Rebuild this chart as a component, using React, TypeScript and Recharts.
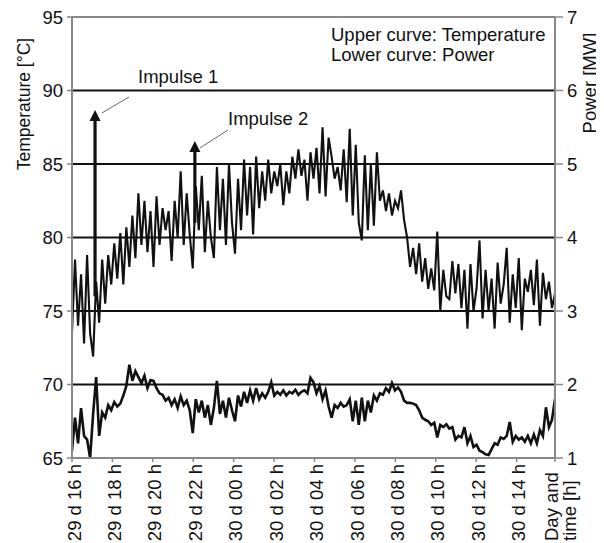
import React from "react";
import { ComposedChart, Line, XAxis, YAxis, ReferenceLine, Customized } from "recharts";

const START_H = 16;
const STEP_H = 0.149375;

const tempValues = [
  73.5, 78.5, 74, 77.5, 72.8, 78.8, 73.5, 71.9, 77, 74.2,
  78.5, 75.5, 78.8, 76.8, 79.6, 77.2, 80.3, 76.8, 80.7, 78,
  81.5, 78.6, 83, 79.5, 82.5, 79, 81.8, 78, 82.8, 79.5,
  82, 80.5, 81.8, 78.4, 82.5, 80, 84.5, 79.5, 83, 80.2,
  77.9, 83.5, 80.5, 84.2, 79, 82.5, 80, 78.6, 84.8, 80.5,
  84, 79.5, 85, 81, 78.9, 84, 80.5, 85.3, 81.5, 84.8,
  80.2, 85.5, 82, 84.5, 82.5, 85.3, 83, 84.5, 83.5, 85,
  82.2, 84.5, 83, 85.5, 84, 86, 84.2, 85.3, 82.5, 85.8,
  84, 86.1, 83, 87.5, 82.8, 86.8, 85.5, 84, 84.8, 83.2,
  86, 82.4, 87.4, 81.5, 86.3, 81, 79.8, 85.6, 80.5, 85,
  80.8, 85.8, 82.5, 83.2, 81.8, 83, 81.5, 82.5, 82, 83.2,
  81.2, 80, 78, 79.3, 77.5, 79.6, 77, 78.6, 76.5, 77.9,
  76.4, 80.4, 75, 77.8, 76, 75.8, 78.4, 76.2, 78.2, 75.2,
  77.8, 73.8, 78.2, 75, 76.5, 79.8, 74.5, 77.8, 75, 77.2,
  73.8, 78.3, 75.5, 76.8, 79.3, 74.2, 77.5, 75.2, 78.6, 73.7,
  77.2, 76.3, 77.8, 75.4, 78.5, 74, 77.6, 75.8, 77, 75.2,
  76.2,
];

const powerValues = [
  1.1, 1.55, 1.2, 1.68, 1.3, 1.25, 1.0, 1.6, 2.1, 1.3,
  1.62, 1.55, 1.72, 1.65, 1.76, 1.7, 1.74, 1.85, 1.98, 2.27,
  2.05, 2.18, 2.1, 2.02, 2.12, 1.95, 2.06, 2.05, 1.95, 1.88,
  1.86, 1.78, 1.82, 1.72, 1.8, 1.68, 1.84, 1.72, 1.78, 1.65,
  1.34, 1.8, 1.62, 1.78, 1.55, 1.72, 1.45, 1.68, 2.05, 1.6,
  1.78, 1.55, 1.82, 1.65, 1.5, 1.85, 1.7, 1.9, 1.75, 1.92,
  1.78, 1.95, 1.8, 1.88, 1.82, 1.9, 2.03, 1.85, 1.9, 1.86,
  1.92, 1.85, 1.9, 1.88, 1.93, 1.86, 1.9, 1.92, 1.88, 2.09,
  2.03, 1.88, 1.98, 1.8, 1.92, 1.7, 1.55, 1.72, 1.68, 1.75,
  1.7, 1.72, 1.8, 1.5, 1.78, 1.45, 1.82, 1.5, 1.78, 1.62,
  1.85, 1.78, 1.88, 1.86, 1.95, 1.9, 2.02, 1.92, 1.96, 1.9,
  1.78, 1.75, 1.75, 1.74, 1.72, 1.65, 1.55, 1.52, 1.5, 1.45,
  1.48, 1.28, 1.45, 1.42, 1.46, 1.4, 1.42, 1.25, 1.3, 1.28,
  1.42, 1.2, 1.3, 1.15, 1.18, 1.1, 1.08, 1.05, 1.04, 1.12,
  1.2, 1.18, 1.28, 1.26, 1.3, 1.49, 1.22, 1.3, 1.25, 1.28,
  1.22, 1.3, 1.2, 1.32, 1.2, 1.38, 1.3, 1.69, 1.42, 1.52,
  1.8,
];

const xTicks = [16, 18, 20, 22, 24, 26, 28, 30, 32, 34, 36, 38, 39.9];
const xTickLabels = [
  "29 d 16 h", "29 d 18 h", "29 d 20 h", "29 d 22 h", "30 d 00 h", "30 d 02 h",
  "30 d 04 h", "30 d 06 h", "30 d 08 h", "30 d 10 h", "30 d 12 h", "30 d 14 h",
  "Day and|time [h]",
];
const tempTicks = [65, 70, 75, 80, 85, 90, 95];
const powerTicks = [1, 2, 3, 4, 5, 6, 7];
const gridTemps = [70, 75, 80, 85, 90];

const impulse1 = [{ t: 17.14, v: 76 }, { t: 17.14, v: 88.2 }];
const impulse2 = [{ t: 22.08, v: 81 }, { t: 22.08, v: 86.1 }];
const arrowTips = [{ t: 17.14, v: 88.67 }, { t: 22.08, v: 86.56 }];
const leader1 = [{ x: 18.82, y: 89.56 }, { x: 17.48, y: 88.47 }];
const leader2 = [{ x: 23.72, y: 87.31 }, { x: 22.33, y: 86.09 }];

const tempData = tempValues.map((v, i) => ({ t: START_H + i * STEP_H, v }));
const powerData = powerValues.map((v, i) => ({ t: START_H + i * STEP_H, v }));

const FONT = "'Liberation Sans', Arial, sans-serif";
const INK = "#111";
const AXIS = "#888";

const XTick = (props: any) => {
  const { x, y, payload } = props;
  const idx = xTicks.indexOf(payload.value);
  const label = xTickLabels[idx] ?? "";
  if (label.includes("|")) {
    const [a, b] = label.split("|");
    const yy = 533;
    return (
      <g fontFamily={FONT} fontSize={18.5} fill={INK}>
        <text x={x + 3} y={yy} textAnchor="start" transform={`rotate(-90, ${x + 3}, ${yy})`}>{a}</text>
        <text x={x + 21} y={yy} textAnchor="start" transform={`rotate(-90, ${x + 21}, ${yy})`}>{b}</text>
      </g>
    );
  }
  return (
    <text
      x={x + 2}
      y={y}
      dy="0.36em"
      textAnchor="end"
      transform={`rotate(-90, ${x + 2}, ${y})`}
      fontFamily={FONT}
      fontSize={18.5}
      fill={INK}
    >
      {label}
    </text>
  );
};

const Arrow = (props: any) => {
  const { cx, cy } = props;
  if (cx == null || cy == null) return null;
  return <path d={`M ${cx} ${cy} L ${cx - 5.5} ${cy + 11} L ${cx + 5.5} ${cy + 11} Z`} fill={INK} />;
};

const Texts = () => (
  <g fontFamily={FONT} fill={INK}>
    <text x={22} y={96} fontSize={17.5} textAnchor="middle" transform="rotate(-90, 22, 96)">Temperature [°C]</text>
    <text x={588} y={75} fontSize={18.5} textAnchor="middle" transform="rotate(-90, 588, 75)">Power [MW]</text>
    <text x={323} y={33} fontSize={18.5}>Upper curve: Temperature</text>
    <text x={323} y={53} fontSize={18.5}>Lower curve: Power</text>
    <text x={130} y={75} fontSize={18.5}>Impulse 1</text>
    <text x={220} y={117} fontSize={18.5}>Impulse 2</text>
  </g>
);

export default function App() {
  return (
    <ComposedChart width={596} height={535} margin={{ top: 9, right: 0, bottom: 0, left: 0 }}>
      <XAxis
        dataKey="t"
        type="number"
        domain={[16, 39.9]}
        ticks={xTicks}
        interval={0}
        height={85}
        tickSize={4}
        tickMargin={2}
        tick={<XTick />}
        axisLine={{ stroke: AXIS, strokeWidth: 2 }}
        tickLine={{ stroke: AXIS, strokeWidth: 1.5 }}
        allowDataOverflow
      />
      <YAxis
        yAxisId="temp"
        orientation="left"
        domain={[65, 95]}
        ticks={tempTicks}
        interval={0}
        width={64}
        tickSize={5}
        tickMargin={4}
        tick={{ fill: INK, fontSize: 18.5, fontFamily: FONT }}
        axisLine={{ stroke: AXIS, strokeWidth: 2 }}
        tickLine={{ stroke: AXIS, strokeWidth: 1.5 }}
        allowDataOverflow
      />
      <YAxis
        yAxisId="power"
        orientation="right"
        domain={[1, 7]}
        ticks={powerTicks}
        interval={0}
        width={49}
        tickSize={8}
        tickMargin={4}
        tick={{ fill: INK, fontSize: 18.5, fontFamily: FONT, textAnchor: "start" }}
        axisLine={{ stroke: AXIS, strokeWidth: 2 }}
        tickLine={{ stroke: AXIS, strokeWidth: 1.5 }}
        allowDataOverflow
      />
      {gridTemps.map((g) => (
        <ReferenceLine key={g} yAxisId="temp" y={g} stroke={INK} strokeWidth={2} />
      ))}
      <ReferenceLine yAxisId="temp" y={95} stroke={AXIS} strokeWidth={2} />
      <ReferenceLine yAxisId="temp" segment={leader1} stroke="#555" strokeWidth={0.9} />
      <ReferenceLine yAxisId="temp" segment={leader2} stroke="#555" strokeWidth={0.9} />
      <Line
        yAxisId="temp"
        data={tempData}
        dataKey="v"
        type="linear"
        stroke={INK}
        strokeWidth={2.1}
        dot={false}
        isAnimationActive={false}
      />
      <Line
        yAxisId="power"
        data={powerData}
        dataKey="v"
        type="linear"
        stroke={INK}
        strokeWidth={2.6}
        dot={false}
        isAnimationActive={false}
      />
      <Line yAxisId="temp" data={impulse1} dataKey="v" stroke={INK} strokeWidth={3.2} dot={false} isAnimationActive={false} />
      <Line yAxisId="temp" data={impulse2} dataKey="v" stroke={INK} strokeWidth={3.2} dot={false} isAnimationActive={false} />
      <Line
        yAxisId="temp"
        data={arrowTips}
        dataKey="v"
        stroke="none"
        strokeWidth={0}
        dot={<Arrow />}
        isAnimationActive={false}
      />
      <Customized component={Texts} />
    </ComposedChart>
  );
}
